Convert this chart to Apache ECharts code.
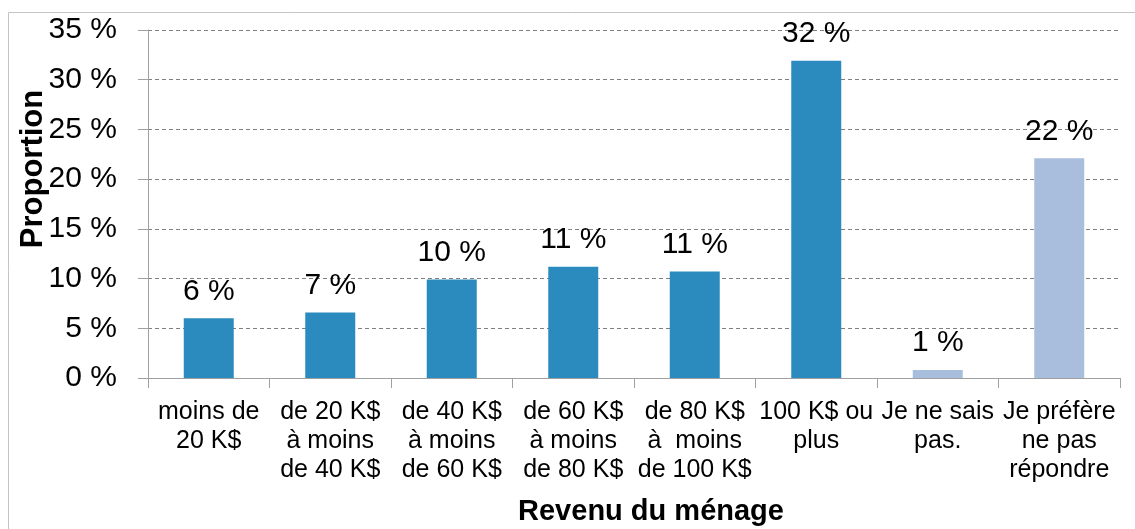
<!DOCTYPE html>
<html><head><meta charset="utf-8">
<script src="https://cdn.jsdelivr.net/npm/echarts@6/dist/echarts.min.js"></script>
<style>html,body{margin:0;padding:0;background:#fff}#c{width:1135px;height:529px}</style>
</head><body><div id="c"></div>
<script>
const categories = ["moins de\n20 K$", "de 20 K$\nà moins\nde 40 K$", "de 40 K$\nà moins\nde 60 K$", "de 60 K$\nà moins\nde 80 K$", "de 80 K$\nà  moins\nde 100 K$", "100 K$ ou\nplus", "Je ne sais\npas.", "Je préfère\nne pas\nrépondre"];
const values = [6.0, 6.6, 9.9, 11.2, 10.7, 31.9, 0.8, 22.1];
const labels = ["6 %", "7 %", "10 %", "11 %", "11 %", "32 %", "1 %", "22 %"];
const yTicks = [0, 5, 10, 15, 20, 25, 30, 35];
const dark = '#2B8BBE', light = '#A9BEDC';
const FONT = '"Liberation Sans", Arial, sans-serif';
const chart = echarts.init(document.getElementById('c'), null, {renderer:'canvas'});
chart.setOption({
  animation:false,
  backgroundColor:'#fff',
  grid:{left:148, right:15, top:30, bottom:151, containLabel:false},
  graphic:[
    {type:'rect', shape:{x:8.5, y:12.5, width:1140, height:540}, style:{fill:'none', stroke:'#C4C4C4', lineWidth:1}, z:-1},
    {type:'text', x:33, y:169, rotation:Math.PI/2, style:{text:'Proportion', font:'bold 31px ' + FONT, fill:'#000', align:'center', verticalAlign:'middle'}},
    {type:'text', x:651, y:512, style:{text:'Revenu du ménage', font:'bold 29px ' + FONT, fill:'#000', align:'center', verticalAlign:'middle'}}
  ],
  xAxis:{type:'category', data:categories, boundaryGap:true,
    axisLine:{lineStyle:{color:'#A0A0A0', width:1}},
    axisTick:{show:true, interval:0, length:10, lineStyle:{color:'#A0A0A0'}},
    axisLabel:{interval:0, margin:20, color:'#000', fontSize:25, lineHeight:29, fontFamily:FONT}
  },
  yAxis:{type:'value', min:yTicks[0], max:yTicks[yTicks.length-1], interval:5,
    axisLine:{show:true, lineStyle:{color:'#A0A0A0'}},
    axisTick:{show:true, length:10, lineStyle:{color:'#A0A0A0'}},
    axisLabel:{margin:31, color:'#000', fontSize:30, fontFamily:FONT, formatter:v=>v+' %'},
    splitLine:{show:true, lineStyle:{color:'#808080', type:[4,3], width:1}}
  },
  series:[{type:'bar', barWidth:50,
    data:values.map((v,i)=>({value:v, itemStyle:{color:i>=6?light:dark}})),
    label:{show:true, position:'top', distance:12, color:'#000', fontSize:30, fontFamily:FONT, formatter:p=>labels[p.dataIndex]}
  }]
});
</script></body></html>
